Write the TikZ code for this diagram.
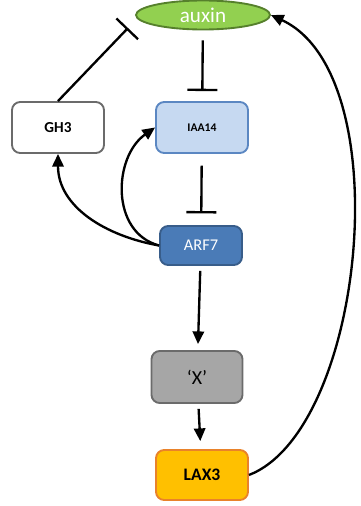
\documentclass[tikz,border=0pt]{standalone}
\usepackage{fontspec}
\setmainfont{Carlito}
\usepackage{xcolor}
\usetikzlibrary{positioning, arrows.meta, shapes.geometric}

\definecolor{auxinfill}{HTML}{92D050}
\definecolor{auxinline}{HTML}{56802C}
\definecolor{iaafill}{HTML}{C6D9F1}
\definecolor{iaaline}{HTML}{5B87C2}
\definecolor{arffill}{HTML}{4A7BB7}
\definecolor{arfline}{HTML}{385D8A}
\definecolor{xfill}{HTML}{A6A6A6}
\definecolor{greyline}{HTML}{6B6B6B}
\definecolor{laxfill}{HTML}{FFC000}
\definecolor{laxline}{HTML}{E9822A}

\begin{document}
\begin{tikzpicture}[
      x=0.03cm, y=-0.03cm,
      box/.style={draw, rectangle, rounded corners=7pt, line width=1.6pt, align=center, minimum width=2.76cm, minimum height=1.53cm, inner sep=0pt},
      act/.style={-{Triangle[length=0.38cm, width=0.34cm]}, line width=2pt},
      inhibit/.style={-{Bar[width=0.9cm]}, line width=2pt}
    ]
    \useasboundingbox (0,0) rectangle (360,506);

    \node (auxin) [ellipse, draw=auxinline, fill=auxinfill, line width=1.6pt, minimum width=4.02cm, minimum height=0.87cm, inner sep=0pt, text=white, font=\fontsize{18}{20}\selectfont] at (203,15) {auxin};
    \node (gh3) [box, draw=greyline, fill=white, font=\fontsize{13}{16}\selectfont\bfseries] at (58,127.5) {GH3};
    \node (iaa14) [box, draw=iaaline, fill=iaafill, font=\fontsize{10}{12}\selectfont\bfseries] at (202,127.5) {IAA14};
    \node (arf7) [box, draw=arfline, fill=arffill, text=white, minimum width=2.46cm, minimum height=1.17cm, font=\fontsize{14}{17}\selectfont] at (201,245.5) {ARF7};
    \node (x) [box, draw=greyline, fill=xfill, minimum width=2.73cm, minimum height=1.56cm, font=\fontsize{17}{20}\selectfont] at (197,377) {‘X’};
    \node (lax3) [box, draw=laxline, fill=laxfill, minimum height=1.5cm, font=\fontsize{15}{18}\selectfont\bfseries] at (202,475) {LAX3};
    \coordinate (gh3end) at (128,28);

    \draw[inhibit, shorten <=0.3cm, shorten >=0.3cm] (auxin) -- (iaa14);
    \draw[inhibit, shorten <=0.35cm, shorten >=0.35cm] (iaa14) -- (arf7);
    \draw[inhibit] (gh3.north) -- (gh3end);
    \draw[act] (arf7.west) to[out=165, in=215, looseness=1.1] (iaa14.west);
    \draw[act] (arf7.west) to[out=170, in=270] (gh3.south);
    \draw[act, shorten <=0.15cm, shorten >=0.18cm] (arf7) -- (x);
    \draw[act, shorten <=0.15cm, shorten >=0.24cm] (x) -- (lax3);
    \draw[act] (lax3.east) .. controls (365,430) and (400,75) .. (auxin.east);
  \end{tikzpicture}
\end{document}
